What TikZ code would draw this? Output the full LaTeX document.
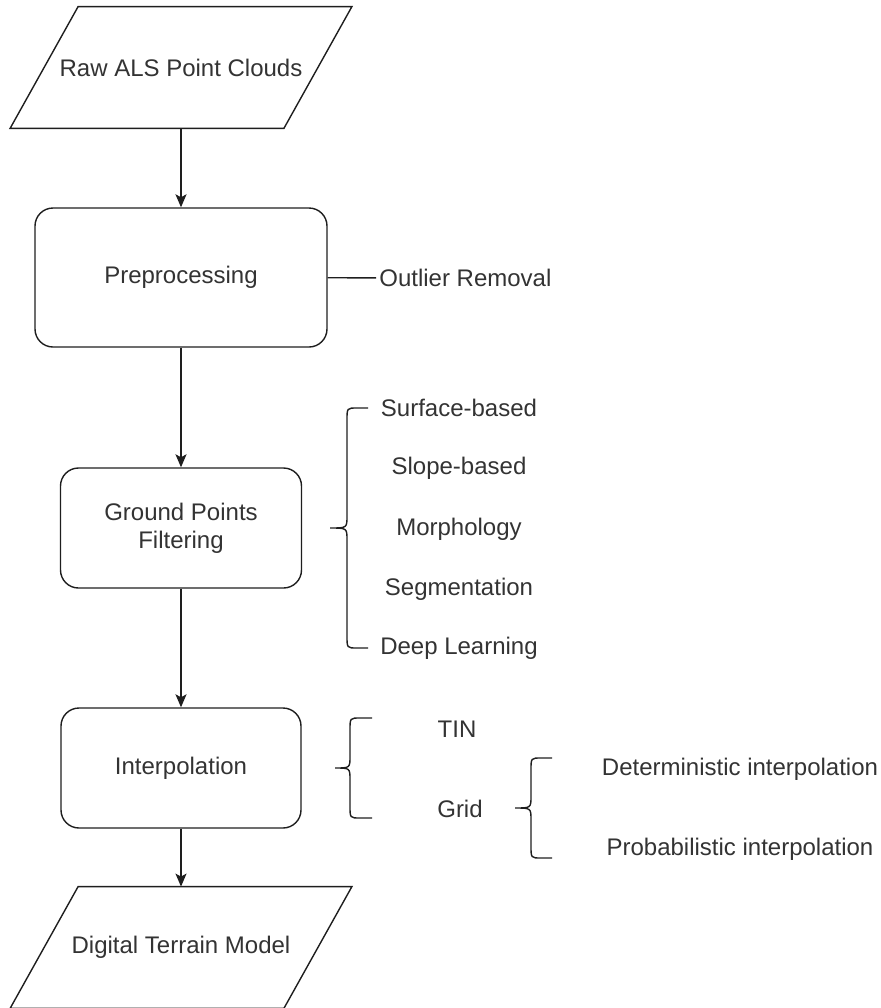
\documentclass[tikz,border=0pt]{standalone}
\usepackage{fontspec}
\setmainfont{Liberation Sans}
\usetikzlibrary{arrows.meta}
\definecolor{inkline}{RGB}{30,30,30}
\definecolor{inktext}{RGB}{51,51,51}
\begin{document}
\begin{tikzpicture}[x=.5pt,y=-.5pt,
  every node/.style={text=inktext,font=\fontsize{12}{14}\selectfont},
  databox/.style={rectangle,minimum width=170.5pt,minimum height=60.5pt,inner sep=0pt},
  dataedge/.style={draw=inkline,line width=0.7pt},
  procbox/.style={rectangle,rounded corners=9pt,draw=inkline,line width=0.7pt,align=center},
  flow/.style={draw=inkline,line width=0.7pt,-{Stealth[length=6.5pt,width=5.5pt,inset=1.5pt]}},
  bracket/.style={draw=inkline,line width=0.7pt},
  item/.style={inner sep=1.5pt}]
\path[use as bounding box] (0,0) rectangle (880,1008);
\node[databox] (raw) at (181,67.5) {Raw ALS Point Clouds};
\draw[dataedge] ([xshift=34pt]raw.north west) -- (raw.north east) -- ([xshift=-34pt]raw.south east) -- (raw.south west) -- cycle;
\node[procbox,minimum width=146pt,minimum height=69.5pt] (pre) at (181,277.5) {Preprocessing};
\node[procbox,minimum width=120.5pt,minimum height=60pt] (gpf) at (181,528) {Ground Points\\Filtering};
\node[procbox,minimum width=120pt,minimum height=60pt] (interp) at (181,768) {Interpolation};
\node[databox] (dtm) at (181,947.5) {Digital Terrain Model};
\draw[dataedge] ([xshift=34pt]dtm.north west) -- (dtm.north east) -- ([xshift=-34pt]dtm.south east) -- (dtm.south west) -- cycle;
\draw[flow] (raw) -- (pre);
\draw[flow] (pre) -- (gpf);
\draw[flow] (gpf) -- (interp);
\draw[flow] (interp) -- (dtm);
\node[item,anchor=west] (outlier) at (376,278) {Outlier Removal};
\draw[bracket] (pre) -- (outlier);
\node[item] (surface) at (459,408) {Surface-based};
\node[item] (slope) at (459,468) {Slope-based};
\node[item] (morph) at (459,529) {Morphology};
\node[item] (segm) at (459,589) {Segmentation};
\node[item] (deep) at (459,648) {Deep Learning};
\draw[bracket] (368,408) -- (357,408) .. controls (347,408) .. (347,420) -- (347,516) .. controls (347,528) .. (330,528) .. controls (347,528) .. (347,540) -- (347,636) .. controls (347,648) .. (357,648) -- (368,648);
\node[item] (tin) at (457,729) {TIN};
\node[item] (grid) at (460,809) {Grid};
\draw[bracket] (372,718) -- (360,718) .. controls (350,718) .. (350,730) -- (350,756) .. controls (350,768) .. (335,768) .. controls (350,768) .. (350,780) -- (350,806) .. controls (350,818) .. (360,818) -- (372,818);
\node[item] (determ) at (740,769) {Deterministic interpolation};
\node[item] (probab) at (740,849) {Probabilistic interpolation};
\draw[bracket] (552,758) -- (541,758) .. controls (531,758) .. (531,770) -- (531,796) .. controls (531,808) .. (515,808) .. controls (531,808) .. (531,820) -- (531,846) .. controls (531,858) .. (541,858) -- (552,858);
\end{tikzpicture}
\end{document}
